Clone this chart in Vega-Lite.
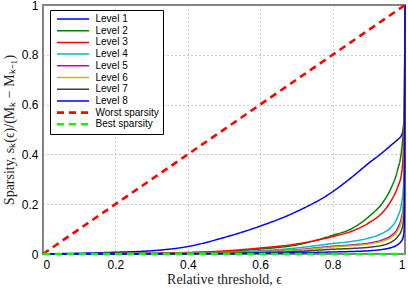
{
  "$schema": "https://vega.github.io/schema/vega-lite/v6.json",
  "width": 362,
  "height": 249,
  "autosize": {"type": "none"},
  "padding": {"left": 43, "top": 5, "right": 3, "bottom": 36},
  "background": "white",
  "config": {
    "view": {"stroke": "#808080", "strokeWidth": 2},
    "axis": {
      "labelFont": "Liberation Sans",
      "labelFontSize": 12,
      "labelColor": "black",
      "titleFont": "Liberation Serif",
      "titleFontSize": 14,
      "titleFontWeight": "normal",
      "titleColor": "#222",
      "grid": true,
      "gridColor": "#9a9a9a",
      "gridDash": [1, 3],
      "gridWidth": 1,
      "domain": false,
      "ticks": false
    },
    "legend": {
      "orient": "none",
      "legendX": 7,
      "legendY": 5,
      "strokeColor": "black",
      "fillColor": "white",
      "padding": 3.5,
      "labelFont": "Liberation Sans",
      "labelFontSize": 10,
      "labelColor": "black",
      "symbolType": "stroke",
      "symbolSize": 1024,
      "symbolOffset": 2,
      "clipHeight": 11,
      "rowPadding": 0.7,
      "labelOffset": 5
    }
  },
  "data": {
    "values": [
      {"s":"Level 1","x":0,"y":0},{"s":"Level 1","x":0.1,"y":0.003},{"s":"Level 1","x":0.2,"y":0.007},{"s":"Level 1","x":0.3,"y":0.013},{"s":"Level 1","x":0.4,"y":0.03},{"s":"Level 1","x":0.5,"y":0.066},{"s":"Level 1","x":0.6,"y":0.112},{"s":"Level 1","x":0.7,"y":0.17},{"s":"Level 1","x":0.8,"y":0.25},{"s":"Level 1","x":0.85,"y":0.305},{"s":"Level 1","x":0.9,"y":0.365},{"s":"Level 1","x":0.94,"y":0.41},{"s":"Level 1","x":0.96,"y":0.435},{"s":"Level 1","x":0.98,"y":0.46},{"s":"Level 1","x":0.99,"y":0.476},{"s":"Level 1","x":0.995,"y":0.5},{"s":"Level 1","x":0.998,"y":0.56},{"s":"Level 1","x":1,"y":1},
      {"s":"Level 2","x":0,"y":0},{"s":"Level 2","x":0.1,"y":0.001},{"s":"Level 2","x":0.2,"y":0.002},{"s":"Level 2","x":0.3,"y":0.003},{"s":"Level 2","x":0.4,"y":0.005},{"s":"Level 2","x":0.5,"y":0.01},{"s":"Level 2","x":0.6,"y":0.02},{"s":"Level 2","x":0.7,"y":0.036},{"s":"Level 2","x":0.8,"y":0.075},{"s":"Level 2","x":0.85,"y":0.1},{"s":"Level 2","x":0.9,"y":0.15},{"s":"Level 2","x":0.94,"y":0.21},{"s":"Level 2","x":0.96,"y":0.26},{"s":"Level 2","x":0.98,"y":0.34},{"s":"Level 2","x":0.99,"y":0.41},{"s":"Level 2","x":0.995,"y":0.49},{"s":"Level 2","x":0.998,"y":0.6},{"s":"Level 2","x":1,"y":1},
      {"s":"Level 3","x":0,"y":0},{"s":"Level 3","x":0.1,"y":0.001},{"s":"Level 3","x":0.2,"y":0.002},{"s":"Level 3","x":0.3,"y":0.003},{"s":"Level 3","x":0.4,"y":0.006},{"s":"Level 3","x":0.5,"y":0.012},{"s":"Level 3","x":0.6,"y":0.024},{"s":"Level 3","x":0.7,"y":0.04},{"s":"Level 3","x":0.8,"y":0.07},{"s":"Level 3","x":0.85,"y":0.09},{"s":"Level 3","x":0.9,"y":0.125},{"s":"Level 3","x":0.94,"y":0.17},{"s":"Level 3","x":0.96,"y":0.21},{"s":"Level 3","x":0.98,"y":0.27},{"s":"Level 3","x":0.99,"y":0.32},{"s":"Level 3","x":0.995,"y":0.4},{"s":"Level 3","x":0.998,"y":0.52},{"s":"Level 3","x":1,"y":1},
      {"s":"Level 4","x":0,"y":0},{"s":"Level 4","x":0.1,"y":0},{"s":"Level 4","x":0.2,"y":0.001},{"s":"Level 4","x":0.3,"y":0.002},{"s":"Level 4","x":0.4,"y":0.003},{"s":"Level 4","x":0.5,"y":0.007},{"s":"Level 4","x":0.6,"y":0.013},{"s":"Level 4","x":0.7,"y":0.024},{"s":"Level 4","x":0.8,"y":0.042},{"s":"Level 4","x":0.85,"y":0.05},{"s":"Level 4","x":0.9,"y":0.064},{"s":"Level 4","x":0.94,"y":0.085},{"s":"Level 4","x":0.96,"y":0.105},{"s":"Level 4","x":0.98,"y":0.15},{"s":"Level 4","x":0.99,"y":0.2},{"s":"Level 4","x":0.995,"y":0.26},{"s":"Level 4","x":0.998,"y":0.35},{"s":"Level 4","x":1,"y":1},
      {"s":"Level 5","x":0,"y":0},{"s":"Level 5","x":0.1,"y":0},{"s":"Level 5","x":0.2,"y":0.001},{"s":"Level 5","x":0.3,"y":0.001},{"s":"Level 5","x":0.4,"y":0.002},{"s":"Level 5","x":0.5,"y":0.005},{"s":"Level 5","x":0.6,"y":0.01},{"s":"Level 5","x":0.7,"y":0.017},{"s":"Level 5","x":0.8,"y":0.031},{"s":"Level 5","x":0.85,"y":0.036},{"s":"Level 5","x":0.9,"y":0.044},{"s":"Level 5","x":0.94,"y":0.058},{"s":"Level 5","x":0.96,"y":0.072},{"s":"Level 5","x":0.98,"y":0.105},{"s":"Level 5","x":0.99,"y":0.145},{"s":"Level 5","x":0.995,"y":0.19},{"s":"Level 5","x":0.998,"y":0.27},{"s":"Level 5","x":1,"y":1},
      {"s":"Level 6","x":0,"y":0},{"s":"Level 6","x":0.1,"y":0},{"s":"Level 6","x":0.2,"y":0.001},{"s":"Level 6","x":0.3,"y":0.001},{"s":"Level 6","x":0.4,"y":0.002},{"s":"Level 6","x":0.5,"y":0.004},{"s":"Level 6","x":0.6,"y":0.009},{"s":"Level 6","x":0.7,"y":0.015},{"s":"Level 6","x":0.8,"y":0.028},{"s":"Level 6","x":0.85,"y":0.033},{"s":"Level 6","x":0.9,"y":0.04},{"s":"Level 6","x":0.94,"y":0.053},{"s":"Level 6","x":0.96,"y":0.065},{"s":"Level 6","x":0.98,"y":0.095},{"s":"Level 6","x":0.99,"y":0.13},{"s":"Level 6","x":0.995,"y":0.175},{"s":"Level 6","x":0.998,"y":0.25},{"s":"Level 6","x":1,"y":1},
      {"s":"Level 7","x":0,"y":0},{"s":"Level 7","x":0.1,"y":0},{"s":"Level 7","x":0.2,"y":0},{"s":"Level 7","x":0.3,"y":0.001},{"s":"Level 7","x":0.4,"y":0.001},{"s":"Level 7","x":0.5,"y":0.003},{"s":"Level 7","x":0.6,"y":0.006},{"s":"Level 7","x":0.7,"y":0.01},{"s":"Level 7","x":0.8,"y":0.019},{"s":"Level 7","x":0.85,"y":0.022},{"s":"Level 7","x":0.9,"y":0.027},{"s":"Level 7","x":0.94,"y":0.036},{"s":"Level 7","x":0.96,"y":0.046},{"s":"Level 7","x":0.98,"y":0.07},{"s":"Level 7","x":0.99,"y":0.095},{"s":"Level 7","x":0.995,"y":0.125},{"s":"Level 7","x":0.998,"y":0.19},{"s":"Level 7","x":1,"y":1},
      {"s":"Level 8","x":0,"y":0},{"s":"Level 8","x":0.1,"y":0},{"s":"Level 8","x":0.2,"y":0},{"s":"Level 8","x":0.3,"y":0},{"s":"Level 8","x":0.4,"y":0.001},{"s":"Level 8","x":0.5,"y":0.001},{"s":"Level 8","x":0.6,"y":0.003},{"s":"Level 8","x":0.7,"y":0.005},{"s":"Level 8","x":0.8,"y":0.008},{"s":"Level 8","x":0.85,"y":0.01},{"s":"Level 8","x":0.9,"y":0.013},{"s":"Level 8","x":0.94,"y":0.019},{"s":"Level 8","x":0.96,"y":0.025},{"s":"Level 8","x":0.98,"y":0.038},{"s":"Level 8","x":0.99,"y":0.052},{"s":"Level 8","x":0.995,"y":0.068},{"s":"Level 8","x":0.998,"y":0.11},{"s":"Level 8","x":1,"y":1},
      {"s":"Worst sparsity","x":0,"y":0},{"s":"Worst sparsity","x":1,"y":1},
      {"s":"Best sparsity","x":0,"y":0},{"s":"Best sparsity","x":1,"y":0}
    ]
  },
  "mark": {"type": "line", "interpolate": "monotone", "clip": false},
  "encoding": {
    "x": {
      "field": "x", "type": "quantitative",
      "scale": {"domain": [0, 1], "nice": false},
      "axis": {"values": [0, 0.2, 0.4, 0.6, 0.8, 1], "format": "~g", "labelPadding": 5, "title": "Relative threshold, ϵ", "titlePadding": 2}
    },
    "y": {
      "field": "y", "type": "quantitative",
      "scale": {"domain": [0, 1], "nice": false},
      "axis": {"values": [0, 0.2, 0.4, 0.6, 0.8, 1], "format": "~g", "labelPadding": 5, "title": "Sparsity, sₖ(ϵ)/(Mₖ − Mₖ₋₁)", "titlePadding": 5}
    },
    "color": {
      "field": "s", "type": "nominal", "title": null,
      "sort": ["Level 1","Level 2","Level 3","Level 4","Level 5","Level 6","Level 7","Level 8","Worst sparsity","Best sparsity"],
      "scale": {
        "domain": ["Level 1","Level 2","Level 3","Level 4","Level 5","Level 6","Level 7","Level 8","Worst sparsity","Best sparsity"],
        "range": ["#0000ff","#008000","#ff0000","#00bfbf","#bf00bf","#bfbf00","#404040","#0000ff","#ff0000","#00ff00"]
      }
    },
    "strokeDash": {
      "field": "s", "type": "nominal", "title": null,
      "sort": ["Level 1","Level 2","Level 3","Level 4","Level 5","Level 6","Level 7","Level 8","Worst sparsity","Best sparsity"],
      "scale": {
        "domain": ["Level 1","Level 2","Level 3","Level 4","Level 5","Level 6","Level 7","Level 8","Worst sparsity","Best sparsity"],
        "range": [[1,0],[1,0],[1,0],[1,0],[1,0],[1,0],[1,0],[1,0],[7,5],[7,5]]
      }
    },
    "strokeWidth": {
      "field": "s", "type": "nominal", "title": null,
      "sort": ["Level 1","Level 2","Level 3","Level 4","Level 5","Level 6","Level 7","Level 8","Worst sparsity","Best sparsity"],
      "scale": {
        "type": "ordinal",
        "domain": ["Level 1","Level 2","Level 3","Level 4","Level 5","Level 6","Level 7","Level 8","Worst sparsity","Best sparsity"],
        "range": [1.5,1.5,1.5,1.5,1.5,1.5,1.5,1.5,2.6,2.6]
      }
    },
    "order": {"field": "x"}
  }
}
